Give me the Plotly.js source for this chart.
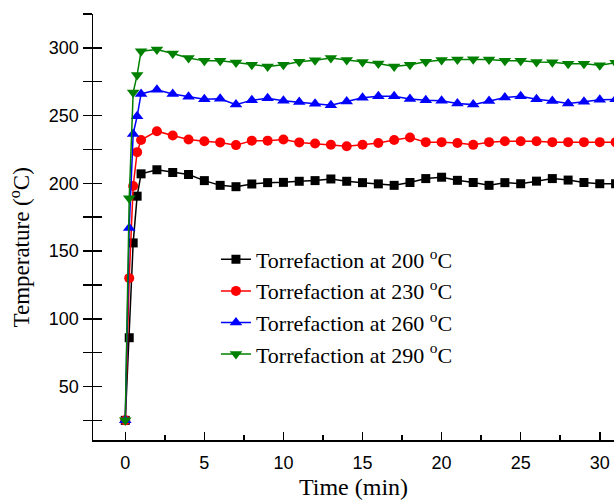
<!DOCTYPE html>
<html><head><meta charset="utf-8">
<script src="https://cdn.plot.ly/plotly-3.0.1.min.js"></script>
<style>body{margin:0;background:#fff}</style>
</head><body><div id="chart" style="width:614px;height:502px"></div>
<script>
const time = [0, 0.25, 0.5, 0.75, 1, 2, 3, 4, 5, 6, 7, 8, 9, 10, 11, 12, 13, 14, 15, 16, 17, 18, 19, 20, 21, 22, 23, 24, 25, 26, 27, 28, 29, 30, 31];
const t200 = [25, 86, 156, 190.5, 207, 210, 208, 206.5, 202, 198.5, 197.5, 199.5, 200.5, 200.7, 201.5, 202, 203.2, 201.5, 200.5, 199.6, 198.5, 200.6, 203.5, 204.5, 202.2, 200.6, 198.5, 200.5, 199.7, 201.6, 203.5, 202.4, 200.6, 199.7, 199.7];
const t230 = [25, 130, 198, 223, 232, 238.5, 235.3, 232.4, 231, 230.2, 228.2, 231.5, 231.5, 232.4, 230.2, 229.4, 228.5, 227.4, 228.5, 229.8, 232, 233.8, 230.4, 230.4, 229.8, 228.4, 230.4, 231.1, 231.1, 231.1, 230.4, 230.4, 230.4, 230.4, 230.4];
const t260 = [25, 167, 236.5, 249.5, 266, 269, 266, 264, 262, 262.4, 258.1, 261.4, 262.8, 261, 260, 258.8, 257.6, 260.4, 263.1, 264.3, 264.3, 262.2, 261.3, 261, 258.9, 258.1, 260.8, 263.3, 264.3, 262, 260.8, 258.9, 260.3, 261.7, 262];
const t290 = [25, 189, 267, 280, 297.5, 298.7, 295.8, 292.5, 290.4, 290.4, 289.2, 287.5, 286.3, 287.5, 289.8, 290.9, 292.6, 291, 289.6, 288.4, 286.2, 287.5, 289.7, 291.1, 291.5, 291.6, 291.4, 290.4, 290.4, 289.5, 289.3, 288.3, 288.3, 287.2, 289];
const names = ['Torrefaction at 200 <sup>o</sup>C', 'Torrefaction at 230 <sup>o</sup>C', 'Torrefaction at 260 <sup>o</sup>C', 'Torrefaction at 290 <sup>o</sup>C'];
const xTitle = 'Time (min)';
const yTitle = 'Temperature (<sup>o</sup>C)';

const series = [t200, t230, t260, t290];
const colors = ['#000000', '#ff0000', '#0000ff', '#008000'];
const symbols = ['square', 'circle', 'triangle-up', 'triangle-down'];
const sizes = [9, 10, 11, 11];

const traces = series.map((s, i) => ({
  x: time, y: s, name: names[i], type: 'scatter', mode: 'lines+markers',
  line: {color: colors[i], width: 1.5},
  marker: {symbol: symbols[i], size: sizes[i], color: colors[i]}
}));
// invisible helper trace so the inside-tick overlay axis is drawn
traces.push({x: time, y: t200, yaxis: 'y2', mode: 'none', showlegend: false, hoverinfo: 'skip'});

const tickFont = {family: 'Liberation Sans, Arial, sans-serif', size: 18, color: '#000'};
const serif = 'Liberation Serif, Times New Roman, serif';

const layout = {
  width: 614, height: 502,
  margin: {l: 93, r: 0, t: 14, b: 62},
  paper_bgcolor: '#fff', plot_bgcolor: '#fff',
  showlegend: true,
  xaxis: {
    range: [-2.04, 30.9], showgrid: false, zeroline: false,
    showline: true, linecolor: '#000', linewidth: 1.5,
    ticks: 'inside', ticklen: 8, tickwidth: 1.5, tickcolor: '#000',
    tick0: 0, dtick: 5, tickfont: tickFont, ticklabelstandoff: 6,
    minor: {ticks: 'inside', ticklen: 5, tickwidth: 1.5, tickcolor: '#000', dtick: 2.5, tick0: 0, showgrid: false},
    title: {text: xTitle, font: {family: serif, size: 24, color: '#000'}, standoff: 6}
  },
  yaxis: {
    range: [10.5, 325], showgrid: false, zeroline: false,
    showline: true, linecolor: '#000', linewidth: 1.5,
    ticks: 'outside', ticklen: 9, tickwidth: 1.5, tickcolor: '#000',
    tick0: 0, dtick: 50, tickfont: tickFont,
    minor: {ticks: 'outside', ticklen: 9, tickwidth: 1.5, tickcolor: '#000', dtick: 25, tick0: 0, showgrid: false}
  },
  yaxis2: {
    overlaying: 'y', side: 'left', anchor: 'x', range: [10.5, 325],
    showgrid: false, zeroline: false, showline: false, showticklabels: false,
    ticks: 'inside', ticklen: 9, tickwidth: 1.5, tickcolor: '#000', tick0: 0, dtick: 50,
    minor: {ticks: 'inside', ticklen: 9, tickwidth: 1.5, tickcolor: '#000', dtick: 25, tick0: 0, showgrid: false}
  },
  annotations: [{
    text: yTitle, xref: 'paper', yref: 'paper', x: -0.14, y: 0.452,
    xanchor: 'center', yanchor: 'middle', textangle: -90, showarrow: false,
    font: {family: serif, size: 23, color: '#000'}
  }],
  legend: {
    x: 0.236, y: 0.473, xanchor: 'left', yanchor: 'top',
    bgcolor: 'rgba(0,0,0,0)', borderwidth: 0,
    font: {family: serif, size: 22, color: '#000'},
    tracegroupgap: 0
  }
};

Plotly.newPlot('chart', traces, layout, {displayModeBar: false, staticPlot: true});
</script>
</body></html>
